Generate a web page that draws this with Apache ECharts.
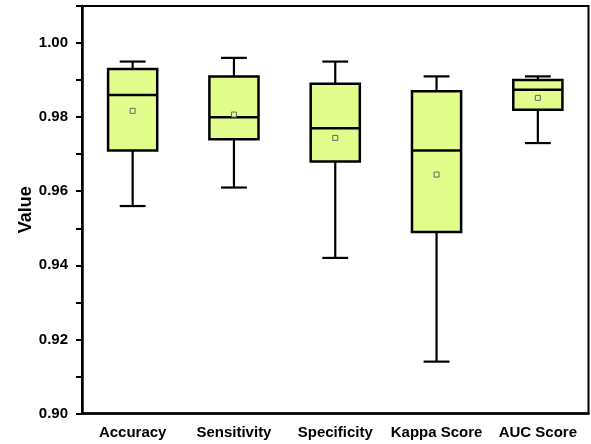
<!DOCTYPE html>
<html>
<head>
<meta charset="utf-8">
<script src="https://cdn.jsdelivr.net/npm/echarts@6/dist/echarts.min.js"></script>
<style>html,body{margin:0;padding:0;background:#fff}#c{width:591px;height:444px}</style>
</head>
<body>
<div id="c"></div>
<script>
const categories = ['Accuracy', 'Sensitivity', 'Specificity', 'Kappa Score', 'AUC Score'];
const minVals    = [0.956, 0.961, 0.942, 0.914, 0.973];
const q1Vals     = [0.971, 0.974, 0.968, 0.949, 0.982];
const medianVals = [0.986, 0.980, 0.977, 0.971, 0.9874];
const q3Vals     = [0.993, 0.991, 0.989, 0.987, 0.990];
const maxVals    = [0.995, 0.996, 0.995, 0.991, 0.991];
const meanVals   = [0.9817, 0.9807, 0.9744, 0.9645, 0.9852];

const boxData = categories.map((c, i) => [i, minVals[i], q1Vals[i], medianVals[i], q3Vals[i], maxVals[i], meanVals[i]]);

const FILL = '#e3fd8c';
const FONT = 'Liberation Sans, Arial, sans-serif';

const chart = echarts.init(document.getElementById('c'), null, {renderer: 'canvas'});
chart.setOption({
  animation: false,
  backgroundColor: '#fff',
  grid: {left: 82, right: 2.5, top: 6, bottom: 30.5, show: true, borderColor: '#000', borderWidth: 2, backgroundColor: 'transparent'},
  xAxis: {
    type: 'category',
    data: categories,
    boundaryGap: true,
    axisLine: {lineStyle: {color: '#000', width: 2.5}},
    axisTick: {alignWithLabel: true, length: 7, lineStyle: {color: '#000', width: 2}},
    axisLabel: {color: '#000', fontFamily: FONT, fontWeight: 'bold', fontSize: 15, margin: 12, interval: 0},
    splitLine: {show: false}
  },
  yAxis: {
    type: 'value',
    min: 0.90, max: 1.01, interval: 0.01,
    name: 'Value',
    nameLocation: 'middle',
    nameGap: 47,
    nameMoveOverlap: false,
    nameTextStyle: {color: '#000', fontFamily: FONT, fontWeight: 'bold', fontSize: 18},
    axisLine: {show: true, lineStyle: {color: '#000', width: 2.5}},
    axisTick: {show: true, inside: false, length: 6, lineStyle: {color: '#000', width: 2}},
    axisLabel: {
      color: '#000', fontFamily: FONT, fontWeight: 'bold', fontSize: 15, margin: 14,
      formatter: v => (Math.round(v * 100) % 2 === 0 && v < 1.005) ? v.toFixed(2) : ''
    },
    splitLine: {show: false}
  },
  series: [{
    type: 'custom',
    data: boxData,
    encode: {x: 0, y: [1, 2, 3, 4, 5, 6]},
    renderItem: function (params, api) {
      const i = api.value(0);
      const pMin = api.coord([i, api.value(1)]);
      const pQ1 = api.coord([i, api.value(2)]);
      const pMed = api.coord([i, api.value(3)]);
      const pQ3 = api.coord([i, api.value(4)]);
      const pMax = api.coord([i, api.value(5)]);
      const pMean = api.coord([i, api.value(6)]);
      const band = api.size([1, 0])[0];
      const cx = pMed[0];
      const bw = band * 0.485;
      const cw = band * 0.255;
      const ls = {stroke: '#000', lineWidth: 2.2};
      const ms = 5;
      return {
        type: 'group',
        children: [
          {type: 'line', shape: {x1: cx, y1: pMax[1], x2: cx, y2: pQ3[1]}, style: ls},
          {type: 'line', shape: {x1: cx, y1: pQ1[1], x2: cx, y2: pMin[1]}, style: ls},
          {type: 'line', shape: {x1: cx - cw / 2, y1: pMax[1], x2: cx + cw / 2, y2: pMax[1]}, style: ls},
          {type: 'line', shape: {x1: cx - cw / 2, y1: pMin[1], x2: cx + cw / 2, y2: pMin[1]}, style: ls},
          {type: 'rect', shape: {x: cx - bw / 2, y: pQ3[1], width: bw, height: pQ1[1] - pQ3[1]}, style: {fill: FILL, stroke: '#000', lineWidth: 2.5}},
          {type: 'line', shape: {x1: cx - bw / 2, y1: pMed[1], x2: cx + bw / 2, y2: pMed[1]}, style: {stroke: '#000', lineWidth: 2.5}},
          {type: 'rect', shape: {x: cx - ms / 2, y: pMean[1] - ms / 2, width: ms, height: ms}, style: {fill: FILL, stroke: '#666', lineWidth: 1}}
        ]
      };
    }
  }]
});
</script>
</body>
</html>
